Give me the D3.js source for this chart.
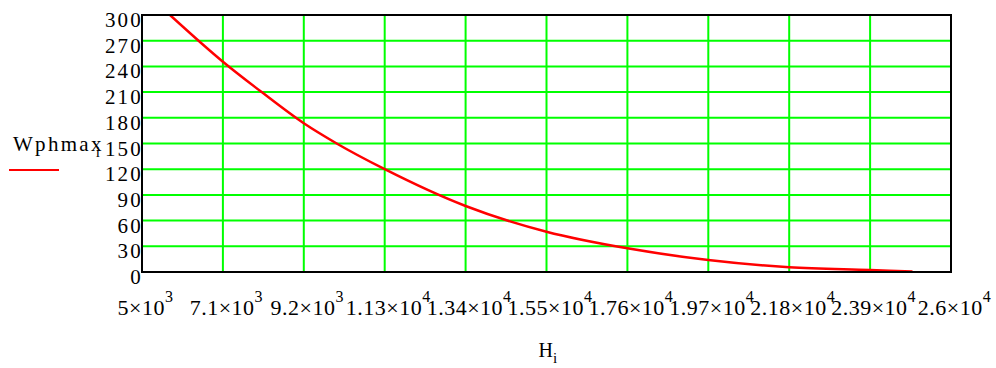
<!DOCTYPE html>
<html>
<head>
<meta charset="utf-8">
<script src="https://cdn.jsdelivr.net/npm/d3@7"></script>
<style>
  body { margin: 0; background: white; }
</style>
</head>
<body>
<div id="chart"></div>
<script>

let width = 996;
let height = 368;
let serif = "Liberation Serif";

// data
const hValues = [5727, 7100, 8107, 9200, 10054, 11300, 13400, 15500, 17600, 19700, 21800, 23900, 25000];
const wValues = [300, 245.5, 210, 173.6, 150, 120, 77, 47, 27.6, 14, 5.5, 2.2, 0.5];

const yTicks = [0, 30, 60, 90, 120, 150, 180, 210, 240, 270, 300];
const xTicks = [5000, 7100, 9200, 11300, 13400, 15500, 17600, 19700, 21800, 23900, 26000];
const xMantissa = ["5", "7.1", "9.2", "1.13", "1.34", "1.55", "1.76", "1.97", "2.18", "2.39", "2.6"];
const xExponent = ["3", "3", "3", "4", "4", "4", "4", "4", "4", "4", "4"];

let data = hValues.map((h, i) => ({h: h, w: wValues[i]}));

let plotLeft = 142, plotRight = 951, plotTop = 15, plotBottom = 272;

let svg = d3.select("#chart")
    .append("svg")
    .attr("width", width)
    .attr("height", height)
    .style("font-family", serif);

let scaleX = d3.scaleLinear()
    .domain([5000, 26000])
    .range([plotLeft, plotRight]);

let scaleY = d3.scaleLinear()
    .domain([0, 300])
    .range([plotBottom, plotTop]);

// grid
svg.append("g")
    .selectAll("line.vgrid")
    .data(xTicks.slice(1, -1))
    .join("line")
    .attr("class", "vgrid")
    .attr("x1", d => scaleX(d))
    .attr("x2", d => scaleX(d))
    .attr("y1", plotTop)
    .attr("y2", plotBottom)
    .attr("stroke", "#00ff00")
    .attr("stroke-width", 2);

svg.append("g")
    .selectAll("line.hgrid")
    .data(yTicks.slice(1, -1))
    .join("line")
    .attr("class", "hgrid")
    .attr("x1", plotLeft)
    .attr("x2", plotRight)
    .attr("y1", d => scaleY(d))
    .attr("y2", d => scaleY(d))
    .attr("stroke", "#00ff00")
    .attr("stroke-width", 2);

// curve
svg.append("clipPath")
    .attr("id", "plot-clip")
    .append("rect")
    .attr("x", plotLeft)
    .attr("y", plotTop)
    .attr("width", plotRight - plotLeft)
    .attr("height", plotBottom - plotTop);

svg.append("path")
    .datum(data)
    .attr("clip-path", "url(#plot-clip)")
    .attr("fill", "none")
    .attr("stroke", "#ff0000")
    .attr("stroke-width", 2.5)
    .attr("d", d3.line()
        .curve(d3.curveMonotoneX)
        .x(d => scaleX(d.h))
        .y(d => scaleY(d.w)));

// frame
svg.append("rect")
    .attr("x", plotLeft)
    .attr("y", plotTop)
    .attr("width", plotRight - plotLeft)
    .attr("height", plotBottom - plotTop)
    .attr("fill", "none")
    .attr("stroke", "black")
    .attr("stroke-width", 2);

// y tick labels
let yAxis = svg.append("g")
    .attr("transform", "translate(" + (plotLeft - 1) + ",0)")
    .call(d3.axisLeft(scaleY).tickValues(yTicks).tickSize(0).tickPadding(0));
yAxis.attr("font-family", serif);
yAxis.select(".domain").remove();
yAxis.selectAll("text")
    .attr("dy", null)
    .attr("y", 11.5)
    .attr("x", 2)
    .attr("fill", "black")
    .style("font-family", serif)
    .style("font-size", "21px")
    .style("letter-spacing", "2.2px");

// x tick labels with powers of ten
let xAxis = svg.append("g")
    .attr("transform", "translate(0," + plotBottom + ")")
    .call(d3.axisBottom(scaleX).tickValues(xTicks).tickSize(0).tickFormat(""));
xAxis.attr("font-family", serif);
xAxis.select(".domain").remove();
xAxis.selectAll("text")
    .attr("dy", null)
    .attr("y", 43)
    .attr("x", 3)
    .attr("fill", "black")
    .style("font-family", serif)
    .style("font-size", "22px")
    .style("letter-spacing", "0.5px")
    .each(function(d, i) {
        let t = d3.select(this);
        t.append("tspan").text(xMantissa[i] + "\u00d710");
        t.append("tspan")
            .attr("dy", -13)
            .style("font-size", "16px")
            .text(xExponent[i]);
    });

// x axis title
let xTitle = svg.append("text")
    .attr("x", (plotLeft + plotRight) / 2 - 8)
    .attr("y", 357)
    .style("font-family", serif)
    .style("font-size", "20px");
xTitle.append("tspan").text("H");
xTitle.append("tspan")
    .attr("dy", 6)
    .style("font-size", "15px")
    .text("i");

// legend
let legendText = svg.append("text")
    .attr("x", 13)
    .attr("y", 151)
    .style("font-family", serif)
    .style("font-size", "21px")
    .style("letter-spacing", "2.3px");
legendText.append("tspan").text("Wphmax");
legendText.append("tspan")
    .attr("dy", 6)
    .attr("dx", -8)
    .style("font-size", "15px")
    .text("i");

svg.append("line")
    .attr("x1", 9)
    .attr("x2", 59)
    .attr("y1", 170)
    .attr("y2", 170)
    .attr("stroke", "#ff0000")
    .attr("stroke-width", 2);

</script>
</body>
</html>
